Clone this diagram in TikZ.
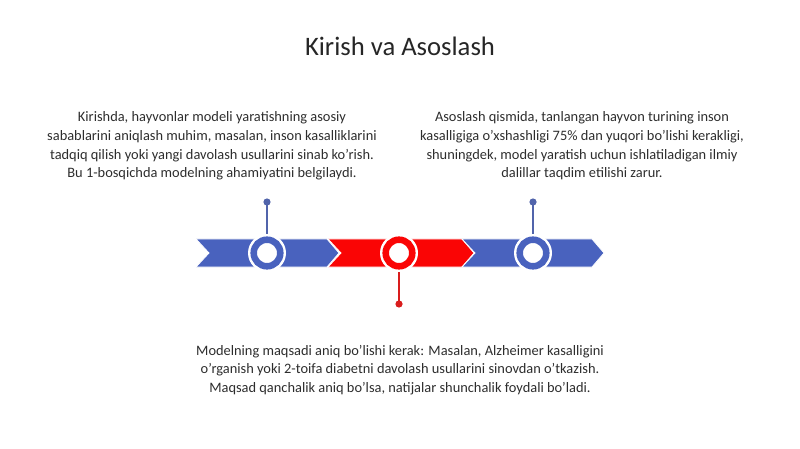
\documentclass[tikz,border=0pt]{standalone}
\usepackage{fontspec}
\setmainfont{Carlito}
\definecolor{segblue}{RGB}{73,98,190}
\definecolor{segred}{RGB}{250,5,5}
\definecolor{txt}{RGB}{45,45,45}
\tikzset{
  seg/.style={draw=white, line width=0.6pt},
  txtbox/.style={text=txt, align=center, font=\fontsize{10.8}{14}\selectfont}
}
\begin{document}
\begin{tikzpicture}[x=0.75pt, y=-0.75pt]

  \useasboundingbox (0,0) rectangle (800,449);

  %title
  \node[text=black!85, font=\fontsize{20}{24}\selectfont] (title) at (400,46) {Kirish va Asoslash};

  %arrow segments
  \def\t{239};
  \def\b{267};
  \def\m{253};
  \foreach \x/\xe/\col/\name in {196/327/segblue/s1, 328/462/segred/s2, 462/592/segblue/s3}{
      \fill[\col, seg] (\x,\t) -- (\xe,\t) -- (\xe+12,\m) -- (\xe,\b) -- (\x,\b) -- (\x+13,\m) -- cycle;
      \coordinate (\name) at (\x,\m);
  }

  %stems and dots
  \foreach \x/\y/\col/\name in {267/202/segblue/d1, 399/304/segred/d2, 533/202/segblue/d3}{
      \fill[\col!85!black!90] (\x,\y) circle (3.6);
      \coordinate (\name) at (\x,\y);
  }
  \foreach \x/\col/\name/\dot in {267/segblue/r1/d1, 399/segred/r2/d2, 533/segblue/r3/d3}{
      \node[circle, minimum size=25pt, inner sep=0pt] (\name) at (\x,\m) {};
      \draw[\col!85!black!90, line width=0.9pt] (\name.center) -- (\dot);
      \fill[white] (\name.center) circle (19);
      \draw[\col, fill=white, line width=4.9pt] (\name.center) circle (13.3);
  }

  %texts
  \node[txtbox] (intro) at (212,146) {Kirishda, hayvonlar modeli yaratishning asosiy\\
      sabablarini aniqlash muhim, masalan, inson kasalliklarini\\
      tadqiq qilish yoki yangi davolash usullarini sinab ko'rish.\\
      Bu 1-bosqichda modelning ahamiyatini belgilaydi.};

  \node[txtbox] (basis) at (582,146) {Asoslash qismida, tanlangan hayvon turining inson\\
      kasalligiga o'xshashligi 75\% dan yuqori bo'lishi kerakligi,\\
      shuningdek, model yaratish uchun ishlatiladigan ilmiy\\
      dalillar taqdim etilishi zarur.};

  \node[txtbox] (goal) at (400,370) {Modelning maqsadi aniq bo'lishi kerak: Masalan, Alzheimer kasalligini\\
      o'rganish yoki 2-toifa diabetni davolash usullarini sinovdan o'tkazish.\\
      Maqsad qanchalik aniq bo'lsa, natijalar shunchalik foydali bo'ladi.};

\end{tikzpicture}
\end{document}
